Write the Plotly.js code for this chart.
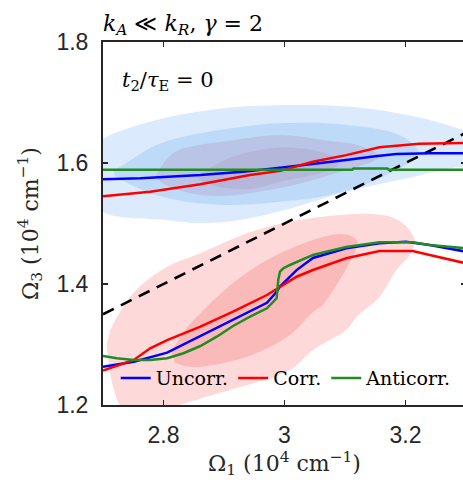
<!DOCTYPE html>
<html>
<head>
<meta charset="utf-8">
<script src="https://cdn.plot.ly/plotly-3.0.1.min.js"></script>
<style>html,body{margin:0;padding:0;overflow:hidden;background:#fff;}#chart{width:466px;height:482px;}</style>
</head>
<body>
<div id="chart"></div>
<script>
// ---- Data ----
// Filled density contours (outlines), upper (blue) state
const blueOuterX = [2.68, 2.70, 2.789, 2.8985, 3.009, 3.119, 3.228, 3.294, 3.33, 3.33, 3.294, 3.212, 3.102, 2.9925, 2.915, 2.85, 2.806, 2.70, 2.68];
const blueOuterY = [1.62, 1.6397, 1.671, 1.6904, 1.6959, 1.692, 1.674, 1.655, 1.645, 1.588, 1.594, 1.577, 1.5526, 1.5202, 1.504, 1.501, 1.5058, 1.519, 1.55];
const blueL2X = [2.717, 2.734, 2.789, 2.844, 2.954, 2.9925, 3.063, 3.102, 3.174, 3.207, 3.222, 3.157, 3.075, 2.9925, 2.898, 2.806, 2.75, 2.72];
const blueL2Y = [1.587, 1.597, 1.63, 1.646, 1.663, 1.6656, 1.666, 1.663, 1.652, 1.636, 1.616, 1.5747, 1.547, 1.536, 1.5306, 1.542, 1.562, 1.578];
const blueL3X = [2.786, 2.816, 2.861, 2.898, 2.993, 3.075, 3.119, 3.157, 3.102, 3.047, 2.9925, 2.898, 2.844, 2.803];
const blueL3Y = [1.577, 1.6165, 1.63, 1.635, 1.6463, 1.6364, 1.63, 1.6104, 1.5884, 1.572, 1.5587, 1.5455, 1.550, 1.5636];
const blueL4X = [2.855, 2.885, 2.915, 2.96, 2.997, 3.047, 3.075, 3.091, 3.075, 3.047, 2.9925, 2.943, 2.888, 2.866];
const blueL4Y = [1.5774, 1.5967, 1.6104, 1.6215, 1.6256, 1.6215, 1.613, 1.60, 1.5884, 1.580, 1.569, 1.557, 1.561, 1.5686];
// Filled density contours, lower (red) state
const redOuterX = [2.712, 2.75, 2.806, 2.861, 2.954, 3.063, 3.162, 3.195, 3.215, 3.207, 3.185, 3.157, 3.119, 3.102, 3.047, 3.009, 2.898, 2.828, 2.795, 2.734, 2.717, 2.709, 2.706];
const redOuterY = [1.324, 1.385, 1.4286, 1.451, 1.4893, 1.5112, 1.514, 1.5008, 1.4727, 1.448, 1.4231, 1.3785, 1.3455, 1.324, 1.291, 1.258, 1.2215, 1.20, 1.1835, 1.192, 1.2298, 1.2744, 1.30];
const redInnerX = [2.813, 2.836, 2.861, 2.915, 2.971, 3.009, 3.047, 3.091, 3.113, 3.121, 3.108, 3.091, 3.063, 3.047, 3.009, 2.954, 2.898, 2.844, 2.819];
const redInnerY = [1.2876, 1.324, 1.352, 1.4017, 1.4397, 1.4579, 1.4727, 1.4826, 1.4782, 1.4678, 1.4364, 1.4066, 1.3653, 1.3537, 1.3157, 1.286, 1.269, 1.2628, 1.2694];

// Diagonal reference line
const diagX = [2.7, 3.3];
const diagY = [1.35, 1.65];

// Upper branch curves
const upUncorrX = [2.70, 2.762, 2.861, 2.931, 2.993, 3.047, 3.102, 3.150, 3.185, 3.24, 3.30];
const upUncorrY = [1.573, 1.5747, 1.580, 1.5856, 1.592, 1.598, 1.605, 1.611, 1.615, 1.616, 1.616];
const upCorrX = [2.70, 2.778, 2.861, 2.943, 2.993, 3.047, 3.102, 3.157, 3.223, 3.30];
const upCorrY = [1.545, 1.5526, 1.5648, 1.580, 1.587, 1.602, 1.613, 1.626, 1.632, 1.633];
const upAntiX = [2.70, 3.112, 3.114, 3.17, 3.172, 3.30];
const upAntiY = [1.589, 1.589, 1.5908, 1.5908, 1.589, 1.589];

// Lower branch curves
const loUncorrX = [2.70, 2.751, 2.806, 2.861, 2.915, 2.971, 2.987, 2.9925, 3.020, 3.047, 3.102, 3.157, 3.201, 3.240, 3.30];
const loUncorrY = [1.263, 1.2716, 1.2865, 1.314, 1.341, 1.369, 1.387, 1.3956, 1.423, 1.443, 1.459, 1.4673, 1.470, 1.4645, 1.4534];
const loCorrX = [2.70, 2.751, 2.778, 2.806, 2.861, 2.915, 2.971, 2.9925, 3.020, 3.047, 3.102, 3.157, 3.212, 3.240, 3.30];
const loCorrY = [1.257, 1.2744, 1.2937, 1.3074, 1.3294, 1.3542, 1.3818, 1.3956, 1.412, 1.4231, 1.4425, 1.4545, 1.4545, 1.448, 1.4342];
const loAntiX = [2.70, 2.723, 2.751, 2.778, 2.806, 2.833, 2.861, 2.888, 2.915, 2.943, 2.971, 2.987, 2.9897, 2.9925, 2.998, 3.009, 3.047, 3.102, 3.157, 3.212, 3.240, 3.30];
const loAntiY = [1.281, 1.2772, 1.2744, 1.2744, 1.2772, 1.2855, 1.2975, 1.3129, 1.3306, 1.346, 1.3598, 1.3764, 1.4066, 1.4203, 1.426, 1.4314, 1.448, 1.461, 1.469, 1.469, 1.4645, 1.459];

const seriesNames = ['Uncorr.', 'Corr.', 'Anticorr.'];
const xTicks = [2.8, 3, 3.2];
const yTicks = [1.2, 1.4, 1.6, 1.8];

// ---- Styling ----
const SERIF = 'DejaVu Serif';
const C_BLUE = '#0000ff', C_RED = '#ff0000', C_GREEN = '#228b22';
function fillTrace(x, y, color) {
  return {x: x, y: y, type: 'scatter', mode: 'lines', fill: 'toself', fillcolor: color,
          line: {width: 0, color: color, shape: 'spline', smoothing: 1}, hoverinfo: 'skip', showlegend: false};
}
function lineTrace(x, y, color, name, show) {
  return {x: x, y: y, type: 'scatter', mode: 'lines', name: name, legendgroup: name,
          showlegend: show, line: {color: color, width: 2.5}};
}

const traces = [
  fillTrace(blueOuterX, blueOuterY, '#dbeafc'),
  fillTrace(blueL2X, blueL2Y, '#bddbf8'),
  fillTrace(blueL3X, blueL3Y, '#b9c4e6'),
  fillTrace(blueL4X, blueL4Y, '#b4b6da'),
  fillTrace(redOuterX, redOuterY, '#fdd9d9'),
  fillTrace(redInnerX, redInnerY, '#fbbaba'),
  {x: diagX, y: diagY, type: 'scatter', mode: 'lines', showlegend: false, hoverinfo: 'skip',
   line: {color: '#000000', width: 2.6, dash: '12px,8px'}},
  lineTrace(upUncorrX, upUncorrY, C_BLUE, seriesNames[0], false),
  lineTrace(upCorrX, upCorrY, C_RED, seriesNames[1], false),
  lineTrace(upAntiX, upAntiY, C_GREEN, seriesNames[2], false),
  lineTrace(loUncorrX, loUncorrY, C_BLUE, seriesNames[0], true),
  lineTrace(loCorrX, loCorrY, C_RED, seriesNames[1], true),
  lineTrace(loAntiX, loAntiY, C_GREEN, seriesNames[2], true)
];

const axisCommon = {
  showline: true, linecolor: '#262626', linewidth: 2, mirror: 'ticks',
  ticks: 'inside', ticklen: 5, tickwidth: 1.5, tickcolor: '#262626',
  showgrid: false, zeroline: false,
  tickfont: {family: 'Liberation Sans', size: 23, color: '#262626'}
};

const layout = {
  width: 466, height: 482,
  margin: {l: 103, r: 0, t: 42, b: 77, pad: 0},
  paper_bgcolor: '#ffffff', plot_bgcolor: '#ffffff',
  title: {text: '<i>k<sub>A</sub></i> ≪ <i>k<sub>R</sub></i>, <i>γ</i> = 2',
          font: {family: SERIF, size: 22, color: '#000'},
          x: 0, xref: 'paper', xanchor: 'left', y: 0.952, yref: 'container', yanchor: 'middle'},
  xaxis: Object.assign({}, axisCommon, {
    range: [2.7, 3.3], tickvals: xTicks, ticktext: xTicks.map(String), ticklabelstandoff: 8,
    title: {text: 'Ω<sub>1</sub> (10<sup>4</sup> cm<sup>−1</sup>)', standoff: 6,
            font: {family: SERIF, size: 22, color: '#262626'}}
  }),
  yaxis: Object.assign({}, axisCommon, {
    range: [1.2, 1.8], tickvals: yTicks, ticktext: yTicks.map(String), ticklabelstandoff: 8,
    title: {text: 'Ω<sub>3</sub> (10<sup>4</sup> cm<sup>−1</sup>)', standoff: 12,
            font: {family: SERIF, size: 22, color: '#262626'}}
  }),
  legend: {orientation: 'h', x: 0.035, xanchor: 'left', y: 0.074, yanchor: 'middle',
           bgcolor: 'rgba(0,0,0,0)', borderwidth: 0, itemwidth: 30, tracegroupgap: 0,
           font: {family: SERIF, size: 19, color: '#000'}},
  annotations: [{
    text: '<i>t</i><sub>2</sub>/<i>τ</i><sub>E</sub> = 0', xref: 'paper', yref: 'paper',
    x: 0.047, y: 0.893, xanchor: 'left', yanchor: 'middle', showarrow: false,
    font: {family: SERIF, size: 21, color: '#000'}
  }],
  showlegend: true
};

Plotly.newPlot('chart', traces, layout, {displayModeBar: false, staticPlot: true});
</script>
</body>
</html>
